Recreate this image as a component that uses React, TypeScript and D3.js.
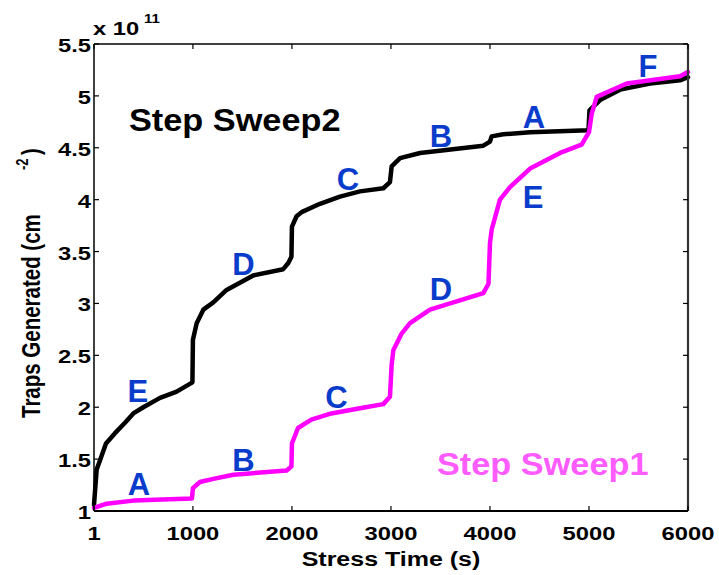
import React from "react";
import * as d3 from "d3";

// Step Sweep2 (black)
const sweep2Time = [1, 28, 62, 122, 213, 314, 398, 499, 668, 836, 995, 1000, 1038, 1105, 1206, 1340, 1609, 1912, 1963, 1995, 2000, 2047, 2098, 2283, 2485, 2687, 2923, 2990, 3007, 3092, 3294, 3933, 4000, 4017, 4134, 4405, 4995, 5005, 5112, 5314, 5617, 5920, 6000];
const sweep2Value = [1.06, 1.40, 1.49, 1.65, 1.75, 1.85, 1.94, 2.0, 2.09, 2.15, 2.24, 2.65, 2.81, 2.94, 3.01, 3.13, 3.27, 3.33, 3.39, 3.45, 3.74, 3.84, 3.88, 3.96, 4.03, 4.08, 4.11, 4.17, 4.32, 4.40, 4.45, 4.52, 4.56, 4.61, 4.63, 4.65, 4.67, 4.86, 4.96, 5.06, 5.12, 5.15, 5.18];

// Step Sweep1 (magenta)
const sweep1Time = [1, 128, 398, 990, 1000, 1071, 1206, 1408, 1947, 1995, 2000, 2061, 2196, 2398, 2687, 2923, 2990, 3007, 3024, 3108, 3192, 3394, 3933, 3985, 4000, 4017, 4101, 4202, 4405, 4708, 4926, 5000, 5028, 5078, 5381, 5920, 6000];
const sweep1Value = [1.03, 1.07, 1.10, 1.12, 1.22, 1.28, 1.31, 1.35, 1.39, 1.43, 1.65, 1.80, 1.88, 1.94, 1.99, 2.03, 2.10, 2.41, 2.55, 2.71, 2.81, 2.94, 3.10, 3.19, 3.58, 3.71, 4.00, 4.12, 4.30, 4.45, 4.53, 4.65, 4.83, 4.99, 5.12, 5.19, 5.23];

const xTicks = [1, 1000, 2000, 3000, 4000, 5000, 6000];
const yTicks = [1, 1.5, 2, 2.5, 3, 3.5, 4, 4.5, 5, 5.5];

// Segment labels (text, time, value at baseline)
const sweep2Labels = ["E", "D", "C", "B", "A", "F"];
const sweep2LabelTime = [445, 1511, 2566, 3506, 4445, 5596];
const sweep2LabelValue = [2.05, 3.27, 4.09, 4.51, 4.69, 5.18];
const sweep1Labels = ["A", "B", "C", "D", "E"];
const sweep1LabelTime = [455, 1511, 2450, 3506, 4435];
const sweep1LabelValue = [1.15, 1.39, 1.99, 3.03, 3.92];

const W = 719;
const H = 575;
const M = { left: 94, right: 688, top: 44, bottom: 511 };
const FONT = "'Liberation Sans', Arial, Helvetica, sans-serif";
const SX = 1.25;

export default function App() {
  const x = d3.scaleLinear().domain([1, 6000]).range([M.left, M.right]);
  const y = d3.scaleLinear().domain([1, 5.5]).range([M.bottom, M.top]);
  const line = d3
    .line<[number, number]>()
    .x((d) => x(d[0]))
    .y((d) => y(d[1]));
  const s2 = sweep2Time.map((t, i) => [t, sweep2Value[i]] as [number, number]);
  const s1 = sweep1Time.map((t, i) => [t, sweep1Value[i]] as [number, number]);
  const tl = 5;
  const blue = "#0a3ccc";

  return (
    <svg
      width={W}
      height={H}
      style={{ position: "absolute", left: 0, top: 0, background: "#fff" }}
      fontFamily={FONT}
      fontWeight="bold"
    >
      <rect x={0} y={0} width={W} height={H} fill="#fff" />
      {/* curves */}
      <path d={line(s2) || ""} fill="none" stroke="#000" strokeWidth={4.5} strokeLinejoin="round" strokeLinecap="round" />
      <path d={line(s1) || ""} fill="none" stroke="#ff00ff" strokeWidth={4.5} strokeLinejoin="round" strokeLinecap="round" />

      {/* axes box */}
      <line x1={M.left} x2={M.right} y1={M.top} y2={M.top} stroke="#000" strokeWidth={1.5} />
      <line x1={M.left} x2={M.right} y1={M.bottom} y2={M.bottom} stroke="#000" strokeWidth={2} />
      <line x1={M.left} x2={M.left} y1={M.top} y2={M.bottom} stroke="#000" strokeWidth={1.5} />
      <line x1={M.right} x2={M.right} y1={M.top} y2={M.bottom} stroke="#333" strokeWidth={2.2} />

      {/* x ticks */}
      {xTicks.map((t) => (
        <g key={"xt" + t}>
          <line x1={x(t)} x2={x(t)} y1={M.bottom} y2={M.bottom - tl} stroke="#000" strokeWidth={1.2} />
          <line x1={x(t)} x2={x(t)} y1={M.top} y2={M.top + tl} stroke="#000" strokeWidth={1.2} />
          <text
            transform={`translate(${x(t)},540) scale(${SX},1)`}
            textAnchor="middle"
            fontSize={19}
            fill="#000"
          >
            {t}
          </text>
        </g>
      ))}
      {/* y ticks */}
      {yTicks.map((t) => (
        <g key={"yt" + t}>
          <line x1={M.left} x2={M.left + tl} y1={y(t)} y2={y(t)} stroke="#000" strokeWidth={1.2} />
          <line x1={M.right} x2={M.right - tl} y1={y(t)} y2={y(t)} stroke="#000" strokeWidth={1.2} />
          <text
            transform={`translate(91,${y(t) + 8})scale(${SX},1)`}
            textAnchor="end"
            fontSize={19}
            fill="#000"
          >
            {t}
          </text>
        </g>
      ))}

      {/* exponent */}
      <text transform={`translate(93,35) scale(${SX},1)`} fontSize={19} fill="#000">
        x 10
      </text>
      <text transform={`translate(144,23) scale(${SX},1)`} fontSize={12} fill="#000">
        11
      </text>

      {/* axis titles */}
      <text
        transform={`translate(391,566) scale(${SX},1)`}
        textAnchor="middle"
        fontSize={20}
        fill="#000"
      >
        Stress Time (s)
      </text>
      <text transform={`translate(40,418) rotate(-90) scale(1,${SX})`} fontSize={20.5} fill="#000">
        Traps Generated (cm
      </text>
      <text transform={`translate(28,170) rotate(-90) scale(1,${SX})`} fontSize={13} fill="#000">
        -2
      </text>
      <text transform={`translate(40,155) rotate(-90) scale(1,${SX})`} fontSize={20} fill="#000">
        )
      </text>

      {/* segment labels */}
      {sweep2Labels.map((l, i) => (
        <text
          key={"l2" + i}
          x={x(sweep2LabelTime[i])}
          y={y(sweep2LabelValue[i])}
          textAnchor="middle"
          fontSize={31}
          fill={blue}
        >
          {l}
        </text>
      ))}
      {sweep1Labels.map((l, i) => (
        <text
          key={"l1" + i}
          x={x(sweep1LabelTime[i])}
          y={y(sweep1LabelValue[i])}
          textAnchor="middle"
          fontSize={31}
          fill={blue}
        >
          {l}
        </text>
      ))}

      {/* series names */}
      <text x={129} y={131} fontSize={32} fill="#000" transform="translate(-9.3,0) scale(1.072,1)">
        Step Sweep2
      </text>
      <text x={437} y={475} fontSize={32} fill="#ff5cff" transform="translate(-31.5,0) scale(1.072,1)">
        Step Sweep1
      </text>
    </svg>
  );
}
